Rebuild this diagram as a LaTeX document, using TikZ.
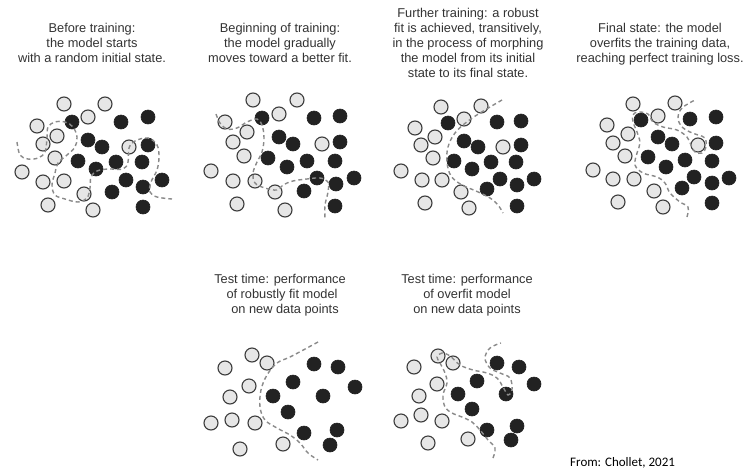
\documentclass[tikz,border=0pt]{standalone}
\usepackage{fontspec}
\setmainfont{Liberation Sans}
\newfontfamily\citefont{Carlito}
\definecolor{lightfill}{HTML}{E6E6E6}
\definecolor{edgecol}{HTML}{3C3C3C}
\definecolor{darkfill}{HTML}{222222}
\definecolor{dashcol}{HTML}{8A8A8A}
\definecolor{textcol}{HTML}{333333}
\begin{document}
\begin{tikzpicture}[x=1pt,y=-1pt,
  lightdot/.style={fill=lightfill,draw=edgecol,line width=1.1pt},
  darkdot/.style={fill=darkfill,draw=darkfill,line width=0.6pt},
  boundary/.style={draw=dashcol,line width=1.4pt,dash pattern=on 4pt off 3pt},
  lbl/.style={anchor=north,align=center,inner sep=0pt,text=textcol,font=\fontsize{12.8}{15}\selectfont}]
\useasboundingbox[fill=white] (0,0) rectangle (744,469);

% ---------- Panel 1 ----------
\foreach \x/\y in {64/104,105/104,37/126,88/117,57/136,43/144,129/147,55/158,22/172,43/182,64/181,84/194,48/205,93/210}
  \draw[lightdot] (\x,\y) circle[radius=7pt];
\foreach \x/\y in {72/122,121/122,148/117,88/140,102/147,148/145,78/161,116/162,142/162,96/169,126/180,162/180,143/187,112/192,143/207}
  \draw[darkdot] (\x,\y) circle[radius=7pt];
\draw[boundary] plot[smooth,tension=0.6] coordinates {(17,142) (20,155) (28,159) (38,158) (45,152) (47,138) (48,127) (55,122) (65,122) (73,127) (77,137) (75,147) (67,155) (58,163) (55,173) (52,185) (55,195) (65,199) (78,202) (87,198) (90,188) (91,177) (97,171) (108,169) (123,169) (128,162) (129,148) (135,141) (148,138) (157,145) (159,157) (157,170) (151,182) (150,192) (157,197) (172,199)};

% ---------- Panel 2 ----------
\foreach \x/\y in {253/100,297/100,225/122,279/114,247/132,233/142,322/144,244/156,211/171,233/181,255/181,275/192,237/204,285/210}
  \draw[lightdot] (\x,\y) circle[radius=7pt];
\foreach \x/\y in {262/118,314/118,340/116,279/137,293/144,340/142,268/158,307/161,335/161,287/167,317/178,354/178,336/184,304/191,335/206}
  \draw[darkdot] (\x,\y) circle[radius=7pt];
\draw[boundary] plot[smooth,tension=0.6] coordinates {(216,114) (220,123) (227,129) (237,128) (247,122) (257,119) (262,125) (264,138) (262,152) (257,162) (253,173) (255,183) (265,188) (277,190) (283,185) (293,181) (307,179) (320,178) (328,182) (328,192) (325,205) (325,218)};

% ---------- Panel 3 ----------
\foreach \x/\y in {441/107,481/106,415/128,464/119,435/137,421/145,503/147,433/158,401/171,422/180,442/180,461/192,425/203,469/208}
  \draw[lightdot] (\x,\y) circle[radius=7pt];
\foreach \x/\y in {448/123,497/122,521/121,464/141,478/147,521/145,454/161,491/162,516/162,472/169,500/179,534/179,517/185,487/189,517/206}
  \draw[darkdot] (\x,\y) circle[radius=7pt];
\draw[boundary] plot[smooth,tension=0.6] coordinates {(502,100) (485,110) (468,121) (455,133) (448,147) (447,162) (451,176) (462,185) (476,191) (490,198) (498,205) (503,213)};

% ---------- Panel 4 ----------
\foreach \x/\y in {633/104,675/103,607/125,658/116,628/134,613/143,698/145,625/156,593/170,613/179,634/179,654/191,618/202,663/207}
  \draw[lightdot] (\x,\y) circle[radius=7pt];
\foreach \x/\y in {641/120,690/119,716/117,658/137,672/144,716/143,648/157,685/160,712/161,666/167,694/177,729/178,712/183,682/188,712/203}
  \draw[darkdot] (\x,\y) circle[radius=7pt];
\draw[boundary] plot[smooth,tension=0.6] coordinates {(687,217) (688,207) (680,202) (670,193) (665,183) (657,177) (643,173) (635,165) (637,153) (640,143) (637,132) (633,122) (633,115) (638,112) (648,114) (653,122) (663,127) (677,130) (687,137) (691,145) (695,152) (702,153) (706,147) (705,138) (698,135) (690,132) (682,127) (678,118) (682,108) (695,100)};

% ---------- Panel 5 ----------
\foreach \x/\y in {252/355,267/363,225/368,249/386,230/397,211/423,232/420,255/423,240/449,283/444}
  \draw[lightdot] (\x,\y) circle[radius=7pt];
\foreach \x/\y in {314/364,338/367,293/382,355/387,273/396,323/396,288/412,337/430,304/433,330/445}
  \draw[darkdot] (\x,\y) circle[radius=7pt];
\draw[boundary] plot[smooth,tension=0.6] coordinates {(318,342) (307,348) (290,357) (277,363) (267,375) (261,390) (260,407) (265,420) (277,428) (290,435) (300,443) (308,453) (318,460)};

% ---------- Panel 6 ----------
\foreach \x/\y in {438/356,453/363,414/367,437/384,419/396,401/421,421/415,442/421,428/443,468/439}
  \draw[lightdot] (\x,\y) circle[radius=7pt];
\foreach \x/\y in {497/363,519/367,477/381,534/384,458/394,506/394,472/409,517/426,487/430,511/440}
  \draw[darkdot] (\x,\y) circle[radius=7pt];
\draw[boundary] plot[smooth,tension=0.6] coordinates {(493,458) (495,448) (488,440) (480,430) (472,422) (462,417) (452,413) (445,407) (443,395) (447,383) (445,373) (440,363) (437,357) (442,353) (450,356) (460,365) (473,370) (487,373) (497,378) (503,387) (508,395) (512,390) (510,378) (500,373) (490,368) (485,358) (490,348) (501,343)};

% ---------- Texts ----------
\node[lbl] (t1) at (92,23.5) {Before training:\\the model starts\\with a random initial state.};
\node[lbl] (t2) at (280,23.5) {Beginning of training:\\the model gradually\\moves toward a better fit.};
\node[lbl] (t3) at (468,8.5) {Further training: a robust\\fit is achieved, transitively,\\in the process of morphing\\the model from its initial\\state to its final state.};
\node[lbl] (t4) at (660,23.5) {Final state: the model\\overfits the training data,\\reaching perfect training loss.};
\node[lbl] (t5) at (280,274) {Test time: performance\\\hspace*{4pt}of robustly fit model\\\hspace*{10pt}on new data points};
\node[lbl] (t6) at (467,274) {Test time: performance\\of overfit model\\on new data points};
\node[anchor=base west,inner sep=0pt,text=black,font=\citefont\fontsize{13}{15}\selectfont] (src) at (570,466.5) {From: Chollet, 2021};
\end{tikzpicture}
\end{document}
